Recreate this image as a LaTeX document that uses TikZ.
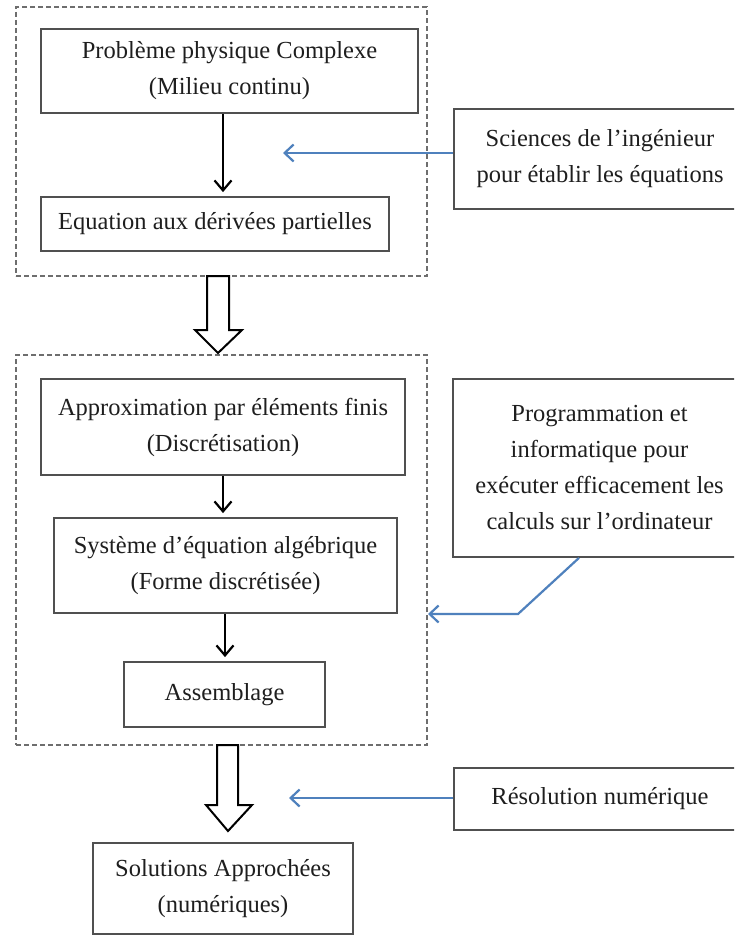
\documentclass[tikz,border=0pt]{standalone}
\usepackage{fontspec}
\setmainfont{Liberation Serif}
\usetikzlibrary{arrows.meta}
\definecolor{bluearr}{RGB}{79,129,189}
\definecolor{boxline}{RGB}{80,80,80}
\definecolor{grpline}{RGB}{110,110,110}
\definecolor{txt}{RGB}{30,30,30}
\begin{document}
\begin{tikzpicture}[x=1pt,y=-1pt,
  box/.style={draw=boxline, line width=1.8pt, fill=white, inner sep=0pt, align=center, text=txt, font=\fontsize{24.5}{36}\selectfont},
  grp/.style={draw=grpline, line width=1.4pt, dash pattern=on 5pt off 3pt, inner sep=0pt},
  flow/.style={line width=2pt, -{Straight Barb[length=10pt,width=17pt,line width=2.2pt]}, shorten >=4pt},
  hint/.style={draw=bluearr, line width=2.2pt, -{Straight Barb[length=9pt,width=17pt,line width=2.2pt]}},
  hollow/.style={draw=black, line width=2pt, fill=white, line join=miter}]
\useasboundingbox (0,0) rectangle (734,936);
\clip (0,0) rectangle (734,936);
\fill[white] (0,0) rectangle (734,936);

% groups
\node[grp, minimum width=411pt, minimum height=269pt] (g1) at (221.5,141.5) {};
\node[grp, minimum width=411pt, minimum height=390pt] (g2) at (221.5,550) {};

% boxes
\node[box, minimum width=377pt, minimum height=84pt] (p1) at (229.5,71) {Problème physique Complexe\\(Milieu continu)};
\node[box, minimum width=348pt, minimum height=54pt] (p2) at (215,224) {Equation aux dérivées partielles};
\node[box, minimum width=292pt, minimum height=100pt] (sci) at (600,159) {Sciences de l’ingénieur\\pour établir les équations};

\node[box, minimum width=364pt, minimum height=96pt] (a1) at (223,427) {Approximation par éléments finis\\(Discrétisation)};
\node[box, minimum width=343pt, minimum height=95pt] (a2) at (225.5,565.5) {Système d’équation algébrique\\(Forme discrétisée)};
\node[box, minimum width=201pt, minimum height=65pt] (a3) at (224.5,694.5) {Assemblage};
\node[box, minimum width=293pt, minimum height=178pt] (prog) at (599.5,468) {Programmation et\\informatique pour\\exécuter efficacement les\\calculs sur l’ordinateur};

\node[box, minimum width=260pt, minimum height=91pt] (sol) at (223,888.5) {Solutions Approchées\\(numériques)};
\node[box, minimum width=292pt, minimum height=62pt] (res) at (600,799) {Résolution numérique};

% black flow arrows
\draw[flow] (p1.south -| 223,0) -- (p2.north -| 223,0);
\draw[flow] (a1.south -| 223,0) -- (a2.north -| 223,0);
\draw[flow] (a2.south -| 225,0) -- (a3.north -| 225,0);

% hollow arrows
\draw[hollow] (207,276) -- (207,330) -- (195,330) -- (218,353) -- (242,330) -- (229,330) -- (229,276) -- cycle;
\draw[hollow] (217,745) -- (217,805) -- (206,805) -- (228,831) -- (252,805) -- (238,805) -- (238,745) -- cycle;

% blue hint arrows
\coordinate (h1) at (283,153);
\coordinate (h2a) at (518,614);
\coordinate (h2) at (428,614);
\coordinate (h3) at (289,798);
\draw[hint] ([yshift=6pt]sci.west) -- (h1);
\draw[hint] (prog.south -| 579,0) -- (h2a) -- (h2);
\draw[hint] ([yshift=1pt]res.west) -- (h3);
\end{tikzpicture}
\end{document}
